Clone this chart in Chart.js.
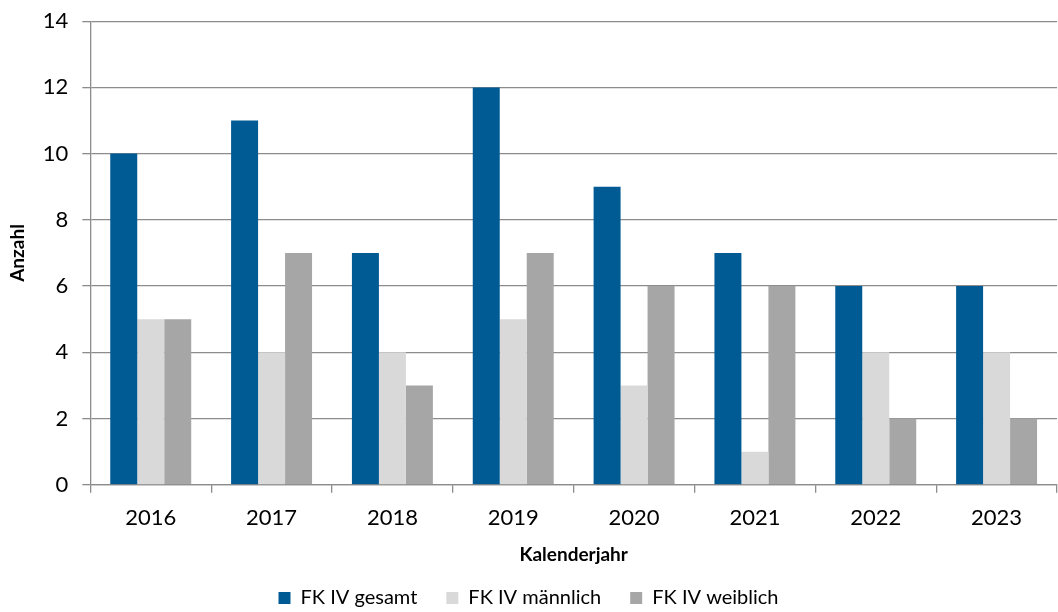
<!DOCTYPE html>
<html>
<head>
<meta charset="utf-8">
<script src="https://cdn.jsdelivr.net/npm/chart.js@4.4.1/dist/chart.umd.min.js"></script>
<style>
  html, body { margin: 0; padding: 0; background: #fff; }
  #wrap { width: 1058px; height: 612px; }
</style>
</head>
<body>
<div id="wrap"><canvas id="barChart" width="1058" height="612"></canvas></div>
<script>
// Daten
const years = ['2016', '2017', '2018', '2019', '2020', '2021', '2022', '2023'];
const gesamt = [10, 11, 7, 12, 9, 7, 6, 6];
const maennlich = [5, 4, 4, 5, 3, 1, 4, 4];
const weiblich = [5, 7, 3, 7, 6, 6, 2, 2];
const yTicks = [0, 2, 4, 6, 8, 10, 12, 14];

const FONT = 'Lato, "Open Sans", sans-serif';
const GRID = '#8c8c8c';

// Legende flacher machen (Abstand zwischen Einträgen bleibt groß)
const legendShrink = {
  id: 'legendShrink',
  beforeInit(chart) {
    const lg = chart.legend;
    if (!lg) return;
    const fit = lg.fit.bind(lg);
    lg.fit = function () { fit(); this.height -= 13; };
  },
  afterLayout(chart) {
    if (chart.legend) chart.legend.top -= 7;
  }
};

new Chart(document.getElementById('barChart'), {
  type: 'bar',
  data: {
    labels: years,
    datasets: [
      { label: 'FK IV gesamt', data: gesamt, backgroundColor: '#005a94' },
      { label: 'FK IV männlich', data: maennlich, backgroundColor: '#d9d9d9' },
      { label: 'FK IV weiblich', data: weiblich, backgroundColor: '#a6a6a6' }
    ]
  },
  plugins: [legendShrink],
  options: {
    responsive: false,
    animation: false,
    layout: { padding: { top: 0, right: 1, left: 0, bottom: 0 } },
    datasets: { bar: { barPercentage: 1, categoryPercentage: 0.67 } },
    plugins: {
      legend: {
        position: 'bottom',
        labels: {
          boxWidth: 12, boxHeight: 12, padding: 29,
          color: '#000', font: { family: FONT, size: 20 }
        }
      },
      tooltip: { enabled: false }
    },
    scales: {
      x: {
        grid: { offset: true, drawOnChartArea: false, drawTicks: true, tickLength: 8, color: GRID, lineWidth: 1.3 },
        border: { color: GRID, width: 1.3 },
        ticks: { color: '#000', font: { family: FONT, size: 22 }, padding: 12 },
        title: { display: true, text: 'Kalenderjahr', color: '#000', font: { family: FONT, size: 19, weight: 'bold' }, padding: { top: 0, bottom: 0 } }
      },
      y: {
        min: 0, max: 14,
        afterBuildTicks: function (axis) { axis.ticks = yTicks.map(v => ({ value: v })); },
        grid: { color: GRID, lineWidth: 1.3, tickLength: 8 },
        border: { color: GRID, width: 1.3 },
        ticks: { color: '#000', font: { family: FONT, size: 22, lineHeight: 0.65 }, padding: 14 },
        title: { display: true, text: 'Anzahl', color: '#000', font: { family: FONT, size: 19, weight: 'bold' }, padding: { top: 6, bottom: 0 } }
      }
    }
  }
});
</script>
</body>
</html>
